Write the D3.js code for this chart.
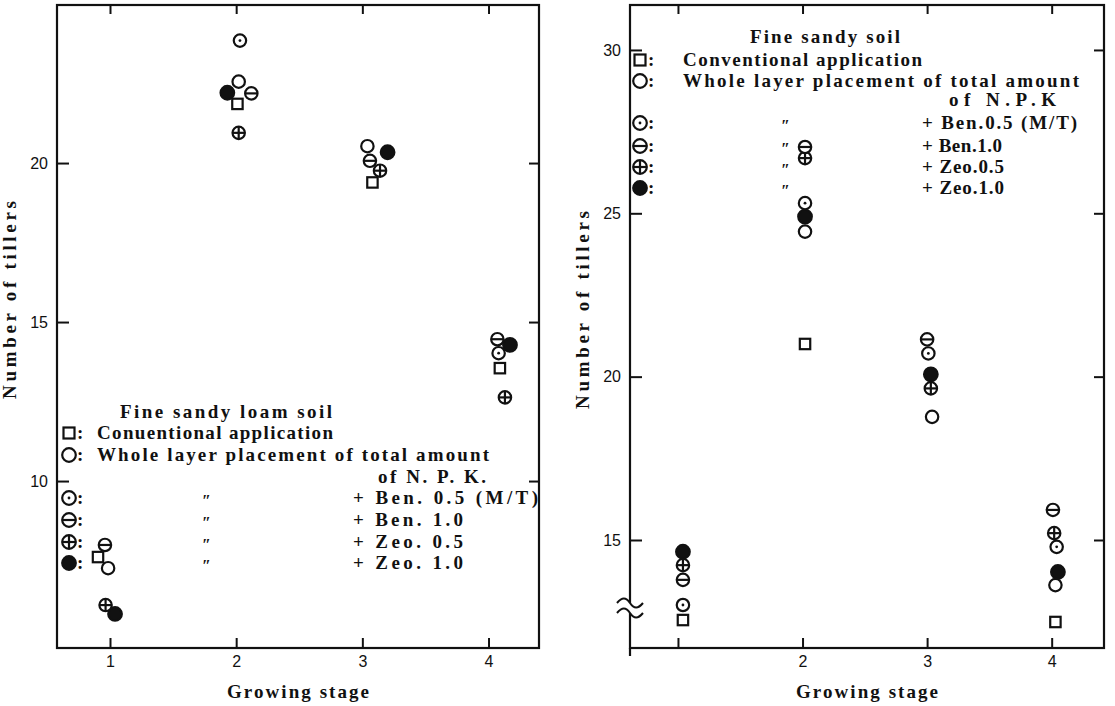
<!DOCTYPE html>
<html>
<head>
<meta charset="utf-8">
<script src="https://cdn.jsdelivr.net/npm/d3@7"></script>
<style>
  body { margin: 0; background: #fff; }
  text { fill: #111; }
</style>
</head>
<body>
<script>
// ---- data: [growing stage position, number of tillers] ----
const stageTicks = [1, 2, 3, 4];
const loamTicksY = [10, 15, 20];
const sandTicksY = [15, 20, 25, 30];

// Fine sandy loam soil (left)
const loamConv  = [[0.905, 7.61], [2.01, 21.86], [3.08, 19.39], [4.09, 13.55]];
const loamWhole = [[0.985, 7.26], [2.02, 22.56], [3.04, 20.53]];
const loamBen05 = [[2.03, 23.85], [4.08, 14.02]];
const loamBen10 = [[0.96, 7.99], [2.12, 22.19], [3.06, 20.07], [4.07, 14.46]];
const loamZeo05 = [[0.965, 6.1], [2.02, 20.95], [3.14, 19.76], [4.13, 12.63]];
const loamZeo10 = [[1.04, 5.82], [1.93, 22.21], [3.20, 20.34], [4.17, 14.28]];

// Fine sandy soil (right)
const sandConv  = [[1.04, 12.55], [2.02, 21.0], [4.03, 12.49]];
const sandWhole = [[2.02, 24.44], [3.04, 18.77], [4.03, 13.62]];
const sandBen05 = [[1.04, 13.01], [2.02, 25.31], [3.01, 20.71], [4.04, 14.79]];
const sandBen10 = [[1.04, 13.78], [2.02, 27.03], [3.0, 21.14], [4.01, 15.92]];
const sandZeo05 = [[1.04, 14.23], [2.02, 26.69], [3.03, 19.64], [4.02, 15.21]];
const sandZeo10 = [[1.04, 14.64], [2.02, 24.90], [3.03, 20.07], [4.05, 14.02]];

// legend texts
const loamLegend = ["Conuentional application", "Whole layer placement of total amount", "of N. P. K.",
  "+ Ben. 0.5 (M/T)", "+ Ben. 1.0", "+ Zeo. 0.5", "+ Zeo. 1.0"];
const sandLegend = ["Conventional application", "Whole layer placement of total amount", "of N.P.K",
  "+ Ben.0.5 (M/T)", "+ Ben.1.0", "+ Zeo.0.5", "+ Zeo.1.0"];

const svg = d3.select("body").append("svg")
  .attr("width", 1115)
  .attr("height", 706);

const SERIF = "'Liberation Serif', 'DejaVu Serif', serif";
const SANS = "'Liberation Sans', Arial, sans-serif";

// draw one marker symbol
function marker(g, type, x, y, r) {
  const m = g.append("g").attr("transform", "translate(" + x + "," + y + ")")
    .attr("stroke", "#111").attr("stroke-width", 2.2);
  if (type === "conv") {
    m.append("rect")
      .attr("x", -r + 1).attr("y", -r + 1)
      .attr("width", 2 * r - 2).attr("height", 2 * r - 2)
      .attr("fill", "#fff");
    return;
  }
  m.append("circle").attr("r", r).attr("fill", type === "zeo10" ? "#111" : "#fff");
  if (type === "ben05") {
    m.append("circle").attr("r", 1.4).attr("fill", "#111").attr("stroke", "none");
  }
  if (type === "ben10" || type === "zeo05") {
    m.append("line").attr("x1", -r).attr("x2", r).attr("y1", 0).attr("y2", 0);
  }
  if (type === "zeo05") {
    m.append("line").attr("x1", 0).attr("x2", 0).attr("y1", -r).attr("y2", r);
  }
}

function panel(opt) {
  const x = d3.scaleLinear().domain(opt.xDomain).range([opt.left, opt.right]);
  const y = d3.scaleLinear().domain(opt.yDomain).range([opt.bottom, opt.top]);
  const g = svg.append("g");

  // axes (ticks pointing inward)
  const ax = g.append("g").attr("font-family", SANS);
  ax.append("g").attr("transform", "translate(0," + opt.bottom + ")")
    .call(d3.axisBottom(x).tickValues(stageTicks).tickSize(-10).tickPadding(8)
      .tickFormat(d => (opt.hideFirst && d === 1) ? "" : d));
  ax.append("g").attr("transform", "translate(0," + opt.top + ")")
    .call(d3.axisTop(x).tickValues(stageTicks).tickSize(-9).tickFormat(""));
  ax.append("g").attr("transform", "translate(" + opt.left + ",0)")
    .call(d3.axisLeft(y).tickValues(opt.yTicks).tickSize(-12).tickPadding(9));
  ax.append("g").attr("transform", "translate(" + opt.right + ",0)")
    .call(d3.axisRight(y).tickValues(opt.yTicks).tickSize(-10).tickFormat(""));
  ax.selectAll(".domain").remove();
  ax.selectAll(".tick line").attr("stroke", "#111").attr("stroke-width", 2);
  ax.selectAll(".tick text").attr("font-size", 16).attr("fill", "#111");

  // frame
  g.append("rect")
    .attr("x", opt.left).attr("y", opt.top)
    .attr("width", opt.right - opt.left).attr("height", opt.bottom - opt.top)
    .attr("fill", "none").attr("stroke", "#111").attr("stroke-width", 2.2);

  // points
  const pts = g.append("g");
  opt.series.forEach(s => {
    s.data.forEach(d => marker(pts, s.type, x(d[0]), y(d[1]), s.type === "zeo10" ? 6.8 : 6.2));
  });

  // axis titles
  g.append("text")
    .attr("x", (opt.left + opt.right) / 2).attr("y", 698)
    .attr("text-anchor", "middle")
    .attr("font-family", SERIF).attr("font-weight", "bold").attr("font-size", 19)
    .attr("textLength", 142).attr("lengthAdjust", "spacing")
    .text("Growing stage");
  g.append("text")
    .attr("transform", "translate(" + opt.yTitleX + "," + opt.yTitleY + ") rotate(-90)")
    .attr("text-anchor", "middle")
    .attr("font-family", SERIF).attr("font-weight", "bold").attr("font-size", 19)
    .attr("textLength", 198).attr("lengthAdjust", "spacing")
    .text("Number of tillers");

  return { g, x, y };
}

function legend(g, L, labels) {
  const txt = (x, y, s, w) => {
    const t = g.append("text")
      .attr("x", x).attr("y", y + 6)
      .attr("font-family", SERIF).attr("font-weight", "bold").attr("font-size", 19)
      .text(s);
    if (w) t.attr("textLength", w).attr("lengthAdjust", "spacing");
    return t;
  };
  txt(L.titleX, L.titleY, L.title, L.titleW);
  const types = ["conv", "whole", null, "ben05", "ben10", "zeo05", "zeo10"];
  types.forEach((t, i) => {
    const yy = L.rows[i];
    if (t) {
      marker(g, t, L.symX, yy, t === "conv" ? 6.5 : 6.8);
      txt(L.symX + 8, yy, ":");
    }
    if (i < 2) txt(L.textX, yy, labels[i], L.widths[i]);
    else if (i === 2) txt(L.npkX, yy, labels[i], L.widths[i]);
    else {
      // ditto mark
      g.append("text").attr("x", L.dittoX).attr("y", yy + 8)
        .attr("font-family", SERIF).attr("font-style", "italic").attr("font-weight", "bold")
        .attr("font-size", 16).text("\u2033");
      txt(L.plusX, yy, labels[i], L.widths[i]);
    }
  });
}

// ---- left panel: Fine sandy loam soil ----
const left = panel({
  left: 57, right: 539, top: 5, bottom: 648,
  xDomain: [0.58, 4.4], yDomain: [4.75, 24.97], yTicks: loamTicksY,
  hideFirst: false, yTitleX: 16, yTitleY: 300,
  series: [
    { type: "zeo10", data: loamZeo10 },
    { type: "zeo05", data: loamZeo05 },
    { type: "conv", data: loamConv },
    { type: "whole", data: loamWhole },
    { type: "ben05", data: loamBen05 },
    { type: "ben10", data: loamBen10 }
  ]
});
legend(left.g, {
  title: "Fine sandy loam  soil", titleX: 120, titleY: 412, titleW: 212,
  symX: 69, textX: 97, npkX: 378, dittoX: 202, plusX: 353,
  rows: [433, 455, 477, 498, 520, 542, 563],
  widths: [236, 392, 108, 185, 110, 110, 110]
}, loamLegend);

// ---- right panel: Fine sandy soil ----
const right = panel({
  left: 630, right: 1104, top: 5, bottom: 648,
  xDomain: [0.615, 4.42], yDomain: [11.694, 31.376], yTicks: sandTicksY,
  hideFirst: true, yTitleX: 589, yTitleY: 310,
  series: [
    { type: "zeo10", data: sandZeo10 },
    { type: "conv", data: sandConv },
    { type: "whole", data: sandWhole },
    { type: "ben05", data: sandBen05 },
    { type: "zeo05", data: sandZeo05 },
    { type: "ben10", data: sandBen10 }
  ]
});
legend(right.g, {
  title: "Fine sandy soil", titleX: 750, titleY: 37, titleW: 150,
  symX: 640, textX: 683, npkX: 949, dittoX: 781, plusX: 922,
  rows: [60, 81, 100, 123, 146, 167, 188],
  widths: [239, 396, 107, 155, 80, 82, 82]
}, sandLegend);

// axis break on the right panel's y axis
right.g.append("rect").attr("x", 626).attr("y", 603).attr("width", 8).attr("height", 10).attr("fill", "#fff");
[603, 613].forEach(yy => {
  right.g.append("path")
    .attr("d", "M617," + yy + " C622," + (yy - 6) + " 626," + (yy - 6) + " 630," + yy +
      " S638," + (yy + 6) + " 643," + yy)
    .attr("fill", "none").attr("stroke", "#111").attr("stroke-width", 2);
});
right.g.append("line").attr("x1", 630).attr("x2", 630).attr("y1", 648).attr("y2", 656)
  .attr("stroke", "#111").attr("stroke-width", 2.2);
</script>
</body>
</html>
